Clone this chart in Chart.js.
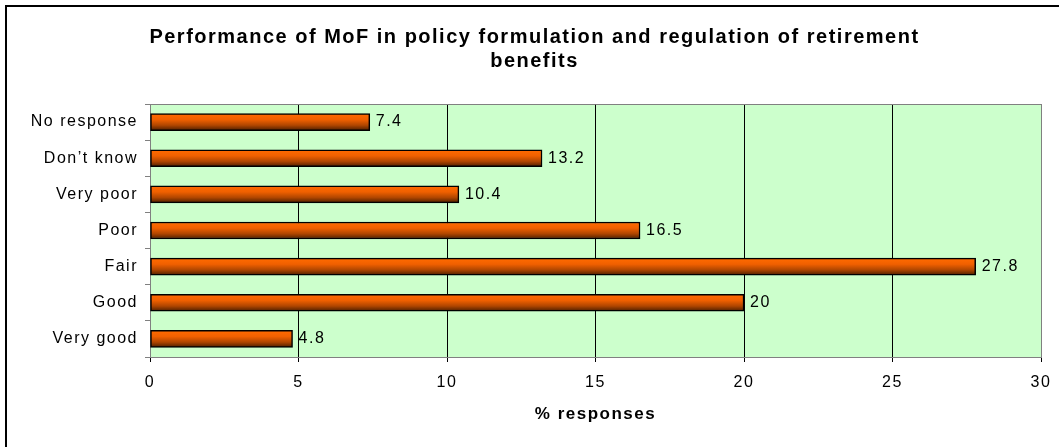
<!DOCTYPE html>
<html>
<head>
<meta charset="utf-8">
<title>Performance of MoF</title>
<script src="https://cdn.jsdelivr.net/npm/chart.js@4.4.1/dist/chart.umd.min.js"></script>
<style>
    html, body { margin: 0; padding: 0; overflow: hidden; background: #fff; }
    #frame {
        position: absolute; left: 5px; top: 5px; width: 1100px; height: 500px;
        border-left: 2px solid #000; border-top: 2px solid #000;
    }
    #wrap { position: absolute; left: 0; top: 0; width: 1080px; height: 447px; }
</style>
</head>
<body>
<div id="frame"></div>
<div id="wrap"><canvas id="perf-chart"></canvas></div>
<script>
// values, top row first
const categories = ['No response', 'Don\u2019t know', 'Very poor', 'Poor', 'Fair', 'Good', 'Very good'];
const responses = [7.4, 13.2, 10.4, 16.5, 27.8, 20, 4.8];
const xTicks = [0, 5, 10, 15, 20, 25, 30];

const FONT = "'Liberation Sans', Arial, sans-serif";
const SPACING = '1.5px';

// Excel-style wide text
const spacingPlugin = {
    id: 'spacing',
    beforeUpdate(chart) { chart.ctx.letterSpacing = SPACING; },
    beforeLayout(chart) { chart.ctx.letterSpacing = SPACING; },
    beforeDraw(chart) { chart.ctx.letterSpacing = SPACING; }
};

const plotBgPlugin = {
    id: 'plotBg',
    beforeDraw(chart) {
        const { ctx, chartArea: a } = chart;
        ctx.save();
        ctx.fillStyle = '#CCFFCC';
        ctx.fillRect(a.left, a.top, a.right - a.left, a.bottom - a.top);
        ctx.restore();
    },
    afterDraw(chart) {
        const { ctx, chartArea: a } = chart;
        ctx.save();
        ctx.strokeStyle = '#808080';
        ctx.lineWidth = 1;
        ctx.beginPath();
        ctx.moveTo(a.left, a.top + 0.5);
        ctx.lineTo(a.right + 0.5, a.top + 0.5);
        ctx.lineTo(a.right + 0.5, a.bottom);
        ctx.stroke();
        ctx.restore();
    }
};

const valueLabelPlugin = {
    id: 'valueLabels',
    afterDatasetsDraw(chart) {
        const ctx = chart.ctx;
        const meta = chart.getDatasetMeta(0);
        ctx.save();
        ctx.letterSpacing = SPACING;
        ctx.font = '16px ' + FONT;
        ctx.fillStyle = '#000';
        ctx.textAlign = 'left';
        ctx.textBaseline = 'middle';
        meta.data.forEach((bar, i) => {
            ctx.fillText(String(responses[i]), bar.x + 6, bar.y);
        });
        ctx.restore();
    }
};

function barGradient(context) {
    const chart = context.chart;
    if (!chart.chartArea || !chart.scales.y) return '#E65C00';
    const yc = chart.scales.y.getPixelForValue(context.dataIndex);
    const g = chart.ctx.createLinearGradient(0, yc - 8, 0, yc + 8);
    g.addColorStop(0, '#FF6A00');
    g.addColorStop(0.35, '#F06000');
    g.addColorStop(0.7, '#B04600');
    g.addColorStop(1, '#552200');
    return g;
}

const ctx = document.getElementById('perf-chart').getContext('2d');
new Chart(ctx, {
    type: 'bar',
    data: {
        labels: categories,
        datasets: [{
            data: responses,
            backgroundColor: barGradient,
            borderColor: '#000',
            borderWidth: 1.5,
            borderSkipped: false,
            barThickness: 17
        }]
    },
    options: {
        indexAxis: 'y',
        responsive: true,
        maintainAspectRatio: false,
        animation: false,
        layout: { padding: { left: 28, right: 39, top: 0, bottom: 0 } },
        plugins: {
            legend: { display: false },
            tooltip: { enabled: false },
            title: {
                display: true,
                text: ['Performance of MoF in policy formulation and regulation of retirement', 'benefits'],
                color: '#000',
                font: { family: FONT, size: 20, weight: 'bold', lineHeight: '24px' },
                padding: { top: 25, bottom: 31 }
            }
        },
        scales: {
            x: {
                min: 0,
                max: 30,
                afterBuildTicks(scale) { scale.ticks = xTicks.map(v => ({ value: v })); },
                afterFit(scale) { scale.height = 90; },
                grid: {
                    color: c => (c.tick && (c.tick.value === 0 || c.tick.value === 30)) ? '#808080' : '#000',
                    tickColor: '#000',
                    tickLength: 5,
                    lineWidth: 1
                },
                border: { color: '#808080', width: 1 },
                ticks: {
                    color: '#000',
                    padding: 11,
                    font: { family: FONT, size: 16 }
                },
                title: {
                    display: true,
                    text: '% responses',
                    color: '#000',
                    font: { family: FONT, size: 17, weight: 'bold', lineHeight: '18px' },
                    padding: { top: 0, bottom: 24 }
                }
            },
            y: {
                afterFit(scale) { scale.width = 122; },
                grid: {
                    drawOnChartArea: false,
                    color: '#808080',
                    tickLength: 5,
                    offset: true
                },
                border: { color: '#808080', width: 1 },
                ticks: {
                    color: '#000',
                    padding: 7,
                    font: { family: FONT, size: 16 }
                }
            }
        }
    },
    plugins: [spacingPlugin, plotBgPlugin, valueLabelPlugin]
});
</script>
</body>
</html>
